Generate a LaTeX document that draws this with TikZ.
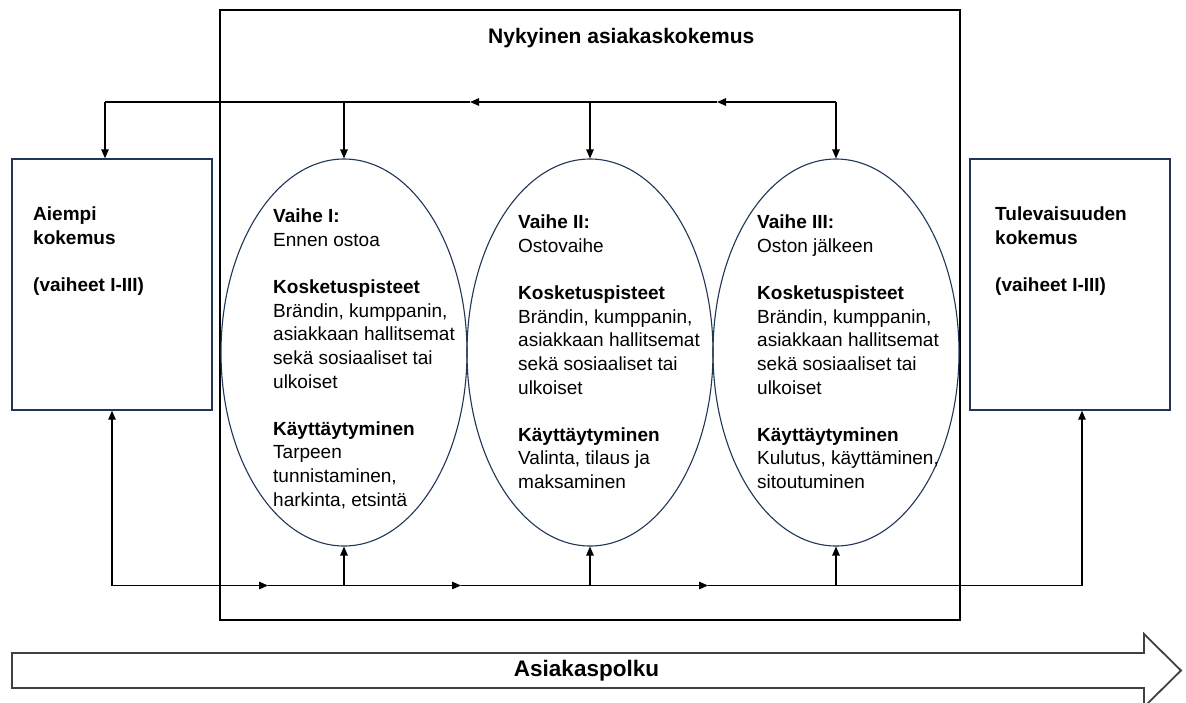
\documentclass[tikz,border=0pt]{standalone}
\usepackage{fontspec}
\setmainfont{Liberation Sans}
\usetikzlibrary{arrows.meta,shapes.geometric}
\definecolor{navy}{HTML}{1F3656}
\tikzset{
  fase/.style={draw=navy,line width=1.1pt,ellipse,minimum width=246pt,minimum height=387pt,inner sep=0pt},
  kokbox/.style={draw=navy,line width=1.4pt,minimum width=200pt,minimum height=251pt,inner sep=0pt},
  teksti/.style={anchor=north west,align=left,inner sep=0pt,font=\fontsize{19}{23.6}\selectfont,
    execute at begin node={\rule{0pt}{15pt}}},
  yht/.style={line width=1.2pt},
}
\begin{document}
\begin{tikzpicture}[x=1pt,y=-1pt,>={Triangle[length=9pt,width=7.5pt]}]
  \useasboundingbox (0,0) rectangle (1186,702);
  % current experience frame
  \draw[line width=1.5pt] (220,10) rectangle (960,620);
  \node[anchor=base west,inner sep=0pt,font=\fontsize{21}{25}\selectfont\bfseries] (otsikko) at (488,43) {Nykyinen asiakaskokemus};
  % boxes and phases
  \node[kokbox] (aiempi) at (112,284.5) {};
  \node[kokbox] (tuleva) at (1070,284.5) {};
  \node[fase] (v1) at (344,352.5) {};
  \node[fase] (v2) at (590,352.5) {};
  \node[fase] (v3) at (836,352.5) {};
  % texts, first baseline 15pt below the anchor
  \node[teksti] (aiempiT) at (33,207) {\textbf{Aiempi}\\\textbf{kokemus}\\[23.6pt]\textbf{(vaiheet I-III)}};
  \node[teksti] (tulevaT) at (995,207) {\textbf{Tulevaisuuden}\\\textbf{kokemus}\\[23.6pt]\textbf{(vaiheet I-III)}};
  \node[teksti] (v1T) at (273,209) {\textbf{Vaihe I:}\\Ennen ostoa\\[23.6pt]\textbf{Kosketuspisteet}\\Brändin, kumppanin,\\asiakkaan hallitsemat\\sekä sosiaaliset tai\\ulkoiset\\[23.6pt]\textbf{Käyttäytyminen}\\Tarpeen\\tunnistaminen,\\harkinta, etsintä};
  \node[teksti] (v2T) at (518,215) {\textbf{Vaihe II:}\\Ostovaihe\\[23.6pt]\textbf{Kosketuspisteet}\\Brändin, kumppanin,\\asiakkaan hallitsemat\\sekä sosiaaliset tai\\ulkoiset\\[23.6pt]\textbf{Käyttäytyminen}\\Valinta, tilaus ja\\maksaminen};
  \node[teksti] (v3T) at (757,215) {\textbf{Vaihe III:}\\Oston jälkeen\\[23.6pt]\textbf{Kosketuspisteet}\\Brändin, kumppanin,\\asiakkaan hallitsemat\\sekä sosiaaliset tai\\ulkoiset\\[23.6pt]\textbf{Käyttäytyminen}\\Kulutus, käyttäminen,\\sitoutuminen};
  % top feedback line
  \coordinate (ylaO) at (836,102);
  \coordinate (ylaN2) at (717,102);
  \coordinate (ylaN1) at (470,102);
  \coordinate (ylaV) at (105,102);
  \draw[yht,->] (ylaO) -- (ylaN2);
  \draw[yht,->] (ylaN2) -- (ylaN1);
  \draw[yht] (ylaN1) -- (ylaV);
  \draw[yht,->] (ylaV) -- (ylaV |- aiempi.north);
  \draw[yht,->] (v1.north |- ylaO) -- (v1.north);
  \draw[yht,->] (v2.north |- ylaO) -- (v2.north);
  \draw[yht,->] (ylaO) -- (v3.north);
  % bottom line
  \coordinate (alaV) at (112,585.5);
  \coordinate (alaN1) at (268,585.5);
  \coordinate (alaN2) at (461,585.5);
  \coordinate (alaN3) at (708,585.5);
  \coordinate (alaO) at (1082,585.5);
  \draw[yht,->] (alaV) -- (alaN1);
  \draw[yht,->] (alaN1) -- (alaN2);
  \draw[yht,->] (alaN2) -- (alaN3);
  \draw[yht] (alaN3) -- (alaO);
  \draw[yht,->] (alaV) -- (aiempi.south);
  \draw[yht,->] (alaO) -- (alaO |- tuleva.south);
  \draw[yht,->] (v1.south |- alaV) -- (v1.south);
  \draw[yht,->] (v2.south |- alaV) -- (v2.south);
  \draw[yht,->] (v3.south |- alaV) -- (v3.south);
  % customer path arrow
  \draw[line width=1.8pt,black!75] (12,653) -- (1144,653) -- (1144,634) -- (1181,670.5) -- (1144,707) -- (1144,688) -- (12,688) -- cycle;
  \node[font=\fontsize{22.5}{26}\selectfont\bfseries,inner sep=0pt] (polku) at (586.5,670.5) {Asiakaspolku};
\end{tikzpicture}
\end{document}
